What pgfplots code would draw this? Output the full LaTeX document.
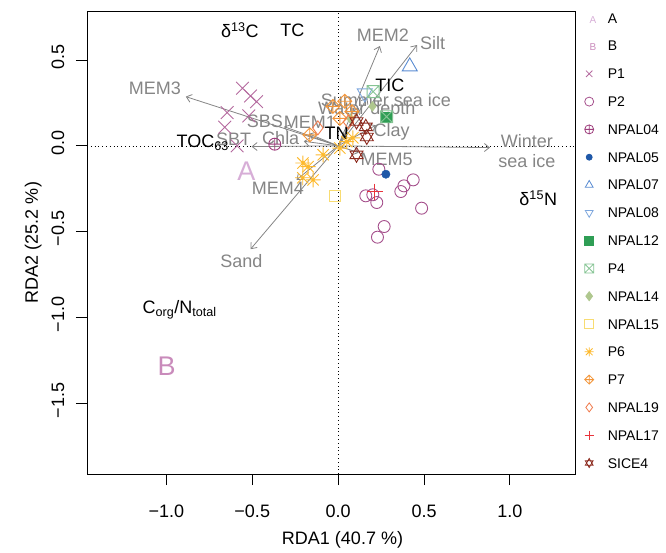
\documentclass[border=0pt]{standalone}
\usepackage{fontspec}
\setmainfont{Liberation Sans}
\usepackage{pgfplots}
\pgfplotsset{compat=1.18}
\usetikzlibrary{calc,arrows.meta}

\definecolor{cA}{HTML}{D7AED7}
\definecolor{cB}{HTML}{C98BBB}
\definecolor{cP1}{HTML}{B4699E}
\definecolor{cP2}{HTML}{A5508C}
\definecolor{cN04}{HTML}{9E3F7D}
\definecolor{cN05}{HTML}{1F58A8}
\definecolor{cN07}{HTML}{5A8CD2}
\definecolor{cN08}{HTML}{7EA7DD}
\definecolor{cN12}{HTML}{2F9E55}
\definecolor{cP4}{HTML}{86C494}
\definecolor{cN14}{HTML}{AFC78E}
\definecolor{cN15}{HTML}{F8DC72}
\definecolor{cP6}{HTML}{FDB92C}
\definecolor{cP7}{HTML}{F3963A}
\definecolor{cN19}{HTML}{F07A4C}
\definecolor{cN17}{HTML}{E8343C}
\definecolor{cS4}{HTML}{8C2A1E}
\definecolor{arr}{HTML}{858585}

% custom R-like marks
\pgfdeclareplotmark{boxx}{%
  \pgfpathrectangle{\pgfqpoint{-\pgfplotmarksize}{-\pgfplotmarksize}}{\pgfqpoint{2\pgfplotmarksize}{2\pgfplotmarksize}}%
  \pgfpathmoveto{\pgfqpoint{-\pgfplotmarksize}{-\pgfplotmarksize}}\pgfpathlineto{\pgfqpoint{\pgfplotmarksize}{\pgfplotmarksize}}%
  \pgfpathmoveto{\pgfqpoint{-\pgfplotmarksize}{\pgfplotmarksize}}\pgfpathlineto{\pgfqpoint{\pgfplotmarksize}{-\pgfplotmarksize}}%
  \pgfusepathqstroke}
\pgfdeclareplotmark{rstar}{%
  \pgfpathmoveto{\pgfqpoint{-\pgfplotmarksize}{0pt}}\pgfpathlineto{\pgfqpoint{\pgfplotmarksize}{0pt}}%
  \pgfpathmoveto{\pgfqpoint{0pt}{-\pgfplotmarksize}}\pgfpathlineto{\pgfqpoint{0pt}{\pgfplotmarksize}}%
  \pgfpathmoveto{\pgfqpoint{-.75\pgfplotmarksize}{-.75\pgfplotmarksize}}\pgfpathlineto{\pgfqpoint{.75\pgfplotmarksize}{.75\pgfplotmarksize}}%
  \pgfpathmoveto{\pgfqpoint{-.75\pgfplotmarksize}{.75\pgfplotmarksize}}\pgfpathlineto{\pgfqpoint{.75\pgfplotmarksize}{-.75\pgfplotmarksize}}%
  \pgfusepathqstroke}
\pgfdeclareplotmark{diamondplus}{%
  \pgfpathmoveto{\pgfqpoint{-\pgfplotmarksize}{0pt}}\pgfpathlineto{\pgfqpoint{0pt}{\pgfplotmarksize}}%
  \pgfpathlineto{\pgfqpoint{\pgfplotmarksize}{0pt}}\pgfpathlineto{\pgfqpoint{0pt}{-\pgfplotmarksize}}\pgfpathclose
  \pgfpathmoveto{\pgfqpoint{-\pgfplotmarksize}{0pt}}\pgfpathlineto{\pgfqpoint{\pgfplotmarksize}{0pt}}%
  \pgfpathmoveto{\pgfqpoint{0pt}{-\pgfplotmarksize}}\pgfpathlineto{\pgfqpoint{0pt}{\pgfplotmarksize}}%
  \pgfusepathqstroke}
\pgfdeclareplotmark{davidstar}{%
  \pgfpathmoveto{\pgfqpoint{0pt}{\pgfplotmarksize}}%
  \pgfpathlineto{\pgfqpoint{-.866\pgfplotmarksize}{-.5\pgfplotmarksize}}%
  \pgfpathlineto{\pgfqpoint{.866\pgfplotmarksize}{-.5\pgfplotmarksize}}\pgfpathclose
  \pgfpathmoveto{\pgfqpoint{0pt}{-\pgfplotmarksize}}%
  \pgfpathlineto{\pgfqpoint{-.866\pgfplotmarksize}{.5\pgfplotmarksize}}%
  \pgfpathlineto{\pgfqpoint{.866\pgfplotmarksize}{.5\pgfplotmarksize}}\pgfpathclose
  \pgfusepathqstroke}

\newcommand\lab{\fontsize{18}{19.5}\selectfont}

\begin{document}
\begin{tikzpicture}
\begin{axis}[
  name=ax,
  scale only axis, width=488pt, height=463pt,
  xmin=-1.462, xmax=1.379, ymin=-1.912, ymax=0.786,
  axis line style={line width=0.9pt, black},
  xtick={-1,-0.5,0,0.5,1}, xticklabels={−1.0,−0.5,0.0,0.5,1.0},
  ytick={-1.5,-1,-0.5,0,0.5}, yticklabels={−1.5,−1.0,−0.5,0.0,0.5},
  tick align=outside, major tick length=11pt,
  xtick pos=bottom, ytick pos=left,
  tick style={line width=0.9pt, black},
  ticklabel style={font=\lab},
  yticklabel style={xshift=-11.4pt, yshift=3pt, rotate=90, anchor=south, inner sep=0pt},
  xticklabel style={yshift=-20pt, anchor=north, inner sep=0pt},
  xlabel={RDA1 (40.7 \%)}, ylabel={RDA2 (25.2 \%)},
  label style={font=\lab},
  xlabel style={at={(axis description cs:0.5236,-0.1425)}, anchor=center},
  ylabel style={at={(axis description cs:-0.11,0.5)}, anchor=center},
  clip=false,
  legend cell align=left,
  legend style={at={(axis description cs:1,1)}, anchor=north west, xshift=9.5pt, yshift=-2pt,
    draw=none, fill=none, inner sep=0pt, row sep=17.8pt, column sep=11.5pt,
    font=\fontsize{14}{14}\selectfont,
    nodes={inner sep=0pt, text height=10pt, text depth=0pt}},
  legend image post style={mark size=4.5pt, line width=0.8pt},
]
% legend-only images for A and B
\addlegendimage{cA, only marks, mark=text, text mark as node=true, text mark=A, text mark style={font=\fontsize{10}{10}\selectfont, text=cA, inner sep=0pt}}
\addlegendentry{A}
\addlegendimage{cB, only marks, mark=text, text mark as node=true, text mark=B, text mark style={font=\fontsize{10}{10}\selectfont, text=cB, inner sep=0pt}}
\addlegendentry{B}

% reference lines
\addplot[black, line width=0.7pt, dash pattern=on 0.8pt off 3pt, forget plot] coordinates {(-1.462,0) (1.379,0)};
\addplot[black, line width=0.7pt, dash pattern=on 0.8pt off 3pt, forget plot] coordinates {(0,-1.912) (0,0.786)};

% group centroids
\addplot[cA, only marks, mark=text, text mark as node=true, text mark=A, text mark style={font=\fontsize{27}{27}\selectfont, text=cA, inner sep=0pt}, forget plot] coordinates {(-0.534,-0.150)};
\addplot[cB, only marks, mark=text, text mark as node=true, text mark=B, text mark style={font=\fontsize{27}{27}\selectfont, text=cB, inner sep=0pt}, forget plot] coordinates {(-0.999,-1.285)};

% sites
\addplot[cP1, only marks, mark=x, mark size=9pt, line width=0.9pt] coordinates {
(-0.557,0.336) (-0.510,0.291) (-0.475,0.258) (-0.646,0.194) (-0.520,0.175) (-0.660,0.109) (-0.588,0.000)};
\addlegendentry{P1}
\addplot[cP2, only marks, mark=o, mark size=6pt, line width=0.9pt] coordinates {
(0.237,-0.136) (0.383,-0.233) (0.437,-0.198) (0.365,-0.266) (0.161,-0.291) (0.202,-0.285)
(0.225,-0.330) (0.486,-0.363) (0.268,-0.470) (0.229,-0.532)};
\addlegendentry{P2}
\addplot[cN04, only marks, mark=oplus, mark size=6pt, line width=0.9pt] coordinates {(-0.369,0.010)};
\addlegendentry{NPAL04}
\addplot[cN05, only marks, mark=*, mark size=4.2pt, legend image post style={mark size=3pt}] coordinates {(0.278,-0.165)};
\addlegendentry{NPAL05}
\addplot[cN07, only marks, mark=triangle, mark size=8.7pt, line width=0.9pt] coordinates {(0.417,0.462)};
\addlegendentry{NPAL07}
\addplot[cN08, only marks, mark=triangle, mark size=8.7pt, line width=0.9pt, mark options={rotate=180}] coordinates {(0.155,0.307)};
\addlegendentry{NPAL08}
\addplot[cN12, only marks, mark=square*, mark size=5pt] coordinates {(0.282,0.170)};
\addlegendentry{NPAL12}
\addplot[cP4, only marks, mark=boxx, mark size=6pt, line width=0.9pt] coordinates {(0.204,0.316) (0.282,0.170)};
\addlegendentry{P4}
\addplot[cN14, only marks, mark=diamond*, mark size=5pt] coordinates {(0.070,0.160) (0.200,0.230)};
\addlegendentry{NPAL14}
\addplot[cN15, only marks, mark=square, mark size=5.5pt, line width=0.9pt] coordinates {(-0.019,-0.289)};
\addlegendentry{NPAL15}
\addplot[cP6, only marks, mark=rstar, mark size=7.5pt, line width=0.9pt] coordinates {
(-0.175,-0.121) (-0.146,-0.198) (-0.087,-0.052) (0.010,-0.013) (0.050,0.025) (-0.206,-0.186) (0.086,0.047) (-0.205,-0.100)};
\addlegendentry{P6}
\addplot[cP7, only marks, mark=diamondplus, mark size=7pt, line width=0.9pt] coordinates {
(-0.165,0.064) (-0.031,0.230) (0.039,0.260) (0.010,0.160) (0.080,0.200)};
\addlegendentry{P7}
\addplot[cN19, only marks, mark=diamond, mark size=7pt, line width=0.9pt] coordinates {(-0.118,0.105) (0.060,0.140)};
\addlegendentry{NPAL19}
\addplot[cN17, only marks, mark=+, mark size=8pt, line width=1pt, mark options={draw=cN17}] coordinates {(0.214,-0.266)};
\addlegendentry{NPAL17}
\addplot[cS4, only marks, mark=davidstar, mark size=7.5pt, line width=0.9pt] coordinates {
(0.107,0.142) (0.161,0.111) (0.167,0.052) (0.107,-0.052)};
\addlegendentry{SICE4}

% biplot arrows
\foreach \tx/\ty in {-0.887/0.287, 0.243/0.582, 0.460/0.588, 0.884/-0.010, -0.510/-0.602,
  -0.242/-0.198, -0.504/-0.004, -0.200/0.027, -0.315/0.112, -0.170/0.070,
  0.170/0.280, 0.120/0.220, 0.220/0.120, 0.120/-0.040}{
  \edef\tmp{\noexpand\addplot[arr, line width=0.8pt, -{Straight Barb[length=5pt,width=8pt]}, forget plot] coordinates {(0,0) (\tx,\ty)};}
  \tmp
}

% arrow labels (gray)
\begin{scope}[every node/.style={font=\lab, text=arr, inner sep=0pt}]
\node at (axis cs:-1.067,0.338) {MEM3};
\node at (axis cs:0.260,0.646) {MEM2};
\node at (axis cs:0.550,0.602) {Silt};
\node[align=center] at (axis cs:1.099,-0.030) {Winter\\sea ice};
\node at (axis cs:-0.563,-0.670) {Sand};
\node at (axis cs:-0.351,-0.250) {MEM4};
\node at (axis cs:-0.608,0.040) {SBT};
\node at (axis cs:-0.334,0.047) {Chla};
\node at (axis cs:-0.427,0.142) {SBS};
\node at (axis cs:-0.165,0.140) {MEM1};
\node at (axis cs:0.278,0.268) {Summer sea ice};
\node at (axis cs:0.167,0.210) {Water depth};
\node at (axis cs:0.311,0.083) {Clay};
\node at (axis cs:0.282,-0.077) {MEM5};
\end{scope}
% response variables (black)
\begin{scope}[every node/.style={font=\lab, text=black, inner sep=0pt}]
\node at (axis cs:-0.009,0.074) {TN};
\node at (axis cs:0.301,0.355) {TIC};
\node at (axis cs:-0.788,0.017) {TOC\textsubscript{63}};
\node at (axis cs:-0.572,0.676) {δ\textsuperscript{13}C};
\node at (axis cs:-0.266,0.676) {TC};
\node at (axis cs:1.165,-0.305) {δ\textsuperscript{15}N};
\node at (axis cs:-0.922,-0.955) {C\textsubscript{org}/N\textsubscript{total}};
\end{scope}
\end{axis}
\pgfresetboundingbox
\path[use as bounding box] ($(ax.south west)+(-87pt,-79pt)$) rectangle ($(ax.north east)+(91pt,11pt)$);
\end{tikzpicture}
\end{document}
